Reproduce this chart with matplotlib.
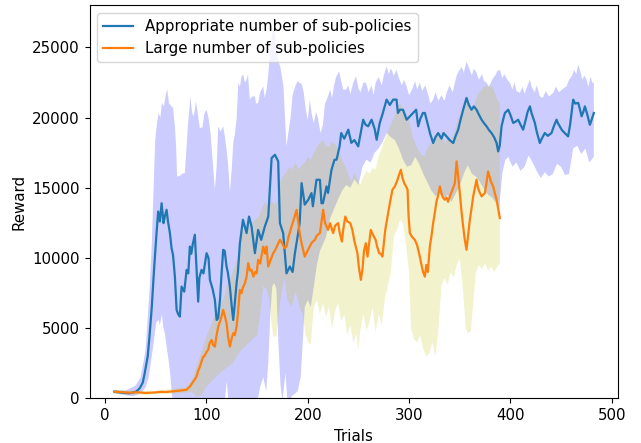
import numpy as np
import matplotlib
matplotlib.use("Agg")
import matplotlib.pyplot as plt

plt.rcParams["font.size"] = 10.8
plt.rcParams["lines.linewidth"] = 1.6
plt.rcParams["xtick.major.size"] = 3.8
plt.rcParams["ytick.major.size"] = 3.8

# mean reward, "Appropriate number of sub-policies"
appropriate_mean = [
    (9, 470), (15, 420), (20, 380), (24, 360), (28, 420), (31, 500), (34, 710), (37, 1100),
    (39, 1780), (42, 3000), (44, 4640), (46, 6500), (47.4, 8200), (49, 10000), (50.7, 11770),
    (52.3, 13310), (54, 12600), (55.7, 13900), (57.6, 12480), (59, 13000), (60.6, 13430),
    (62, 12600), (63.9, 11770), (65.5, 10700), (67, 10200), (68.8, 8670), (70.5, 6300),
    (72, 6000), (73.7, 5820), (75.4, 7960), (78, 7600), (80.4, 9150), (82, 8900), (83.6, 10810),
    (85, 10300), (86.5, 11000), (88.5, 11650), (90.2, 9150), (91.8, 6890), (93, 8600),
    (95.1, 9150), (97, 8900), (100.1, 10340), (102, 10000), (103.4, 8440), (106, 7800),
    (108.3, 7010), (110, 5580), (111.5, 5700), (113.3, 7010), (115, 9000), (116.5, 10580),
    (118, 10500), (119.8, 9390), (121, 9000), (123.1, 7960), (125, 6500), (126.4, 5580),
    (128, 6800), (129.7, 8200), (131, 9000), (133, 11050), (136, 12720), (139.6, 11770),
    (142, 12950), (144.5, 12240), (147.8, 10340), (151, 12000), (154, 11290), (157.6, 12240),
    (161, 12950), (164.3, 17120), (167.6, 17350), (170.8, 16880), (172.5, 12480),
    (175.7, 11770), (179, 8900), (182.3, 9390), (185, 9000), (187.3, 10340), (190.5, 11770),
    (192, 12500), (193.9, 15330), (197, 13800), (200.4, 14140), (203.7, 14620), (205, 13680),
    (208.6, 15570), (212, 15570), (213.5, 13900), (215, 13900), (218.5, 15100), (220, 14630),
    (223.4, 16280), (226.4, 17000), (228.4, 17000), (231.4, 17950), (233, 18900), (236, 18500),
    (240, 19140), (243, 18200), (246, 18400), (249.8, 17950), (252, 18800), (254.7, 19850),
    (257, 19500), (259.6, 19380), (263, 19850), (266, 19200), (268, 18420), (271, 19600),
    (274, 20300), (277.8, 21280), (281, 20900), (284.3, 21280), (287.6, 21280), (289, 20330),
    (290.9, 20560), (294, 20560), (297.6, 19850), (300.8, 20090), (304, 20330), (307, 20560),
    (309, 19380), (311, 19900), (313.7, 20330), (315.6, 20330), (318.9, 19380), (321, 18800),
    (323.8, 18190), (326, 18600), (328.7, 18900), (332, 18500), (334, 18900), (337, 18660),
    (340, 18400), (343.6, 18190), (346, 18700), (348.5, 19140), (351, 19900), (353.4, 20560),
    (356.7, 21400), (359, 20900), (361.6, 20560), (364, 20800), (366.6, 20560), (369, 20200),
    (371.6, 19850), (374, 19600), (376.5, 19380), (379, 19100), (381.4, 18900), (384, 18600),
    (386.4, 18190), (388, 17590), (389.5, 18000), (391.3, 19380), (393, 19900), (394.6, 20330),
    (397.9, 20560), (400, 20200), (402.8, 19620), (405, 19700), (407.7, 19850), (410, 19500),
    (412.6, 19140), (415, 19800), (417, 20400), (419.3, 20800), (421, 20300), (424.2, 19620),
    (426, 19000), (429.1, 18190), (431, 18500), (434, 18900), (437, 18700), (440.6, 18900),
    (443, 19400), (445.6, 19850), (447, 19600), (448.8, 19380), (451, 19100), (453.7, 18900),
    (457, 18660), (459, 19500), (462, 21280), (464, 21000), (467, 21050), (469, 20500),
    (470.3, 20090), (472, 20400), (473.6, 20800), (476, 20200), (478.5, 19490), (480, 19800),
    (482.4, 20330),
]

appropriate_upper = [
    (9, 600), (20, 550), (30, 900), (35, 1500), (40, 3500), (44, 8000), (46, 11000),
    (47.4, 14140), (49.4, 18420), (51, 19500), (52.7, 20330), (54.5, 20000), (56, 21050),
    (58, 20800), (59.5, 21500), (61.2, 22040), (63, 21000), (65.5, 20800), (67, 20700),
    (68.8, 19380), (70, 18000), (71, 15800), (73.7, 15850), (76, 16000), (78.6, 16050),
    (80, 17500), (81.9, 19620), (84.2, 21520), (85.5, 20500), (86.8, 20090), (88, 20300),
    (89.5, 21160), (91, 20500), (93.4, 19260), (96, 19300), (98, 20300), (100, 20560),
    (102, 20000), (104, 18900), (106, 17000), (108.3, 14860), (110, 16500), (111.6, 19380),
    (114, 19000), (116.5, 19380), (118, 18700), (119.8, 17730), (121.5, 16500), (123.1, 14620),
    (125, 16400), (126.4, 18190), (128, 18800), (129.7, 19850), (131.4, 22480), (133, 22200),
    (134.5, 22900), (136.2, 23060), (138, 22500), (139.5, 22700), (141, 23060), (142.8, 21280),
    (145, 21500), (147.8, 21520), (149, 21000), (151, 21050), (153, 21800), (156, 22240),
    (157.5, 21400), (159.3, 22000), (161, 23000), (162.5, 24500), (164, 25600), (166, 26270),
    (167.5, 26000), (169, 24800), (171, 24000), (173, 23600), (176, 22230), (177.5, 20000),
    (179, 17950), (181, 19000), (183, 20000), (185, 21600), (188, 22300), (190, 22600),
    (192, 22480), (194, 22400), (196, 21800), (198, 20600), (200, 19800), (202, 21280),
    (204, 20200), (206, 19600), (208, 20400), (210, 20000), (212.6, 18900), (215, 19500),
    (217, 21000), (220, 21500), (222, 22000), (224, 21400), (226, 22300), (228, 22900),
    (231, 23300), (233, 22600), (235, 22000), (237.8, 22000), (240, 22300), (242, 21700),
    (245, 22500), (247.6, 22950), (250, 22100), (252, 21800), (255, 22500), (257.5, 22480),
    (260, 21800), (263, 22300), (265, 21600), (267, 22480), (270, 22900), (273, 22300),
    (275, 23000), (277.8, 23650), (280, 23100), (282, 23500), (285, 23000), (287.6, 23400),
    (290, 22800), (293, 22300), (295, 22700), (297.5, 22240), (300, 21600), (303, 22000),
    (306, 22600), (308, 22000), (310.6, 22480), (313, 21900), (316, 22300), (319, 21600),
    (321, 21000), (323.8, 21280), (326, 21800), (329, 21200), (332, 21600), (335, 21200),
    (337, 21760), (340, 22300), (343, 21800), (346.8, 22950), (349, 23300), (352, 23600),
    (354, 23200), (356.7, 24000), (359, 23600), (362, 23000), (364, 23500), (366.6, 23200),
    (369, 22700), (372, 23100), (374, 22600), (376.5, 22480), (379, 22200), (382, 22700),
    (385, 23000), (387, 23300), (389.7, 23400), (392, 22800), (394, 23100), (397, 22700),
    (399.6, 22480), (402, 22000), (404, 22500), (406, 21900), (409.4, 21760), (412, 22200),
    (414, 21700), (417, 22300), (419.3, 22700), (421, 22200), (424, 21800), (426, 22300),
    (429.1, 21520), (432, 21400), (435, 21900), (438, 21500), (442.3, 21760), (445, 22200),
    (448, 21800), (451, 22000), (455.5, 22240), (458, 22700), (461, 23000), (463, 23400),
    (465, 23100), (467, 23770), (469, 23300), (471, 22700), (473, 23000), (475.2, 22700),
    (477, 22200), (479, 22900), (481, 22500), (482.4, 22480),
]

appropriate_lower = [
    (9, 350), (20, 220), (28, 150), (33, 300), (37, 500), (40, 800), (43, 1500), (45, 2500),
    (47, 3500), (49, 4600), (50.5, 5400), (52.7, 5580), (54, 5200), (56, 6000), (57.5, 5000),
    (59, 4600), (61, 3500), (63, 2500), (64.5, 1500), (66, 200), (68, -800), (72, -1500),
    (76, -1000), (80, -1800), (85, -1200), (90, -2000), (95, -1500), (100, -1000),
    (105, -1800), (110, -2500), (115, -1200), (118, -300), (120, 1200), (122, -400),
    (126, -2000), (130, -1500), (135, -800), (140, -1000), (145, -600), (150, -300),
    (153, 800), (156, 1500), (159, 500), (161, 2500), (163, 6000), (165, 8000), (167, 8200),
    (169, 7800), (171, 4000), (173, 1000), (175, -200), (178, 1800), (180, -300), (185, 200),
    (190, 500), (193, 1500), (195, 4000), (197, 6500), (200, 7000), (203, 6500), (206, 8000),
    (209, 9500), (212, 10500), (215, 11000), (218, 11500), (222, 12800), (226, 13500),
    (230, 14200), (234, 14800), (238, 15200), (242, 15000), (246, 15600), (250, 15200),
    (254, 16500), (258, 17000), (262, 16800), (266, 17500), (270, 17800), (274, 18300),
    (278, 18900), (282, 18600), (286, 18400), (290, 17800), (294, 17000), (298, 16500),
    (302, 16600), (306, 17200), (310, 16700), (314, 16000), (318, 15400), (322, 14800),
    (326, 14400), (330, 14600), (334, 14200), (338, 14500), (342, 14000), (346, 14600),
    (350, 15100), (354, 16000), (358, 16600), (362, 16000), (366, 15800), (370, 15400),
    (374, 14900), (378, 14500), (382, 14300), (386, 13900), (389, 13600), (392, 16000),
    (395, 17000), (398, 17200), (402, 16500), (406, 16800), (410, 16200), (414, 16500),
    (418, 17300), (422, 16800), (426, 16200), (430, 15700), (434, 16100), (438, 15800),
    (442, 16000), (446, 16700), (450, 16500), (454, 15900), (458, 16000), (462, 17800),
    (466, 18000), (470, 17400), (474, 17800), (478, 16800), (482.4, 17200),
]

# mean reward, "Large number of sub-policies"
large_mean = [
    (9, 470), (15, 440), (20, 420), (25, 400), (30, 430), (35, 410), (40, 380), (45, 400),
    (50, 420), (55, 460), (60, 450), (65, 480), (70, 520), (75, 560), (80, 600), (83.6, 830),
    (86, 1100), (88, 1300), (90.2, 1540), (92, 2000), (93.5, 2250), (95, 2600), (96.8, 2970),
    (98, 3000), (100, 3300), (101.7, 3450), (103, 3900), (105, 4160), (106.5, 3800),
    (108.3, 3680), (110, 4500), (111.6, 5110), (114, 5600), (116.5, 6300), (118, 5900),
    (119.8, 5350), (121.5, 4300), (123.1, 3680), (125, 4300), (126.4, 4640), (128, 4500),
    (129.7, 5110), (131, 6000), (133, 7720), (134.6, 7500), (136, 7900), (137.9, 8200),
    (139.6, 8670), (141.2, 9630), (143, 9100), (144.5, 9150), (146.2, 8670), (148, 9000),
    (149.5, 8900), (151, 9870), (153, 9600), (156, 10810), (158, 10300), (159.3, 10810),
    (161, 9390), (163, 9800), (165.9, 10340), (168, 10600), (170, 10900), (172.5, 11290),
    (175, 11000), (177, 10700), (179, 10810), (181, 11500), (184, 12240), (186, 12700),
    (189, 13430), (190.5, 12600), (192, 11770), (194, 11000), (197, 10100), (199, 10400),
    (202, 10810), (204, 11100), (207, 11290), (209, 11600), (212, 11770), (215.2, 13430),
    (217, 12500), (220, 12000), (222, 12480), (225, 11770), (227, 12300), (230, 12480),
    (231.5, 11800), (233.7, 11170), (235, 12000), (237, 12950), (239, 12600), (242, 12480),
    (244, 12000), (246, 11200), (249, 10340), (250.5, 9300), (252.4, 8440), (254, 9200),
    (255.5, 10500), (257.3, 11050), (259, 10100), (260.5, 11000), (262.2, 12000),
    (264, 11700), (267, 11290), (268.5, 10800), (270.5, 10340), (272, 10300), (273.7, 10100),
    (275, 11000), (276.5, 12000), (278.7, 12950), (281, 13900), (283.6, 14860), (286, 15100),
    (288.6, 15570), (290, 15900), (291.9, 16280), (293.5, 15700), (295.2, 15330),
    (297, 15100), (298.5, 14860), (299.5, 13000), (300.8, 11770), (303, 11500),
    (305.7, 11290), (308, 10900), (310.6, 10100), (312, 9600), (313.8, 9000), (315.6, 8670),
    (317, 9500), (318.5, 9000), (320.5, 10810), (322, 11500), (323.8, 12500), (325.4, 13200),
    (327, 14000), (328.5, 14400), (330.4, 15100), (332, 14600), (333.5, 14300),
    (335.3, 14150), (337, 14300), (338.5, 14000), (340.3, 14390), (342, 14700), (343.5, 15000),
    (345.2, 15330), (346.9, 16880), (348.5, 15800), (350.1, 14620), (351.5, 13500),
    (353.4, 12240), (355, 11300), (356.7, 10580), (358.3, 11600), (360, 12720),
    (361.6, 13500), (363.3, 14390), (365, 15000), (366.6, 15570), (368, 15000),
    (369.5, 14700), (371.6, 14390), (373.2, 14500), (374.8, 14620), (376.4, 15300),
    (378, 16160), (379.5, 15800), (381, 15400), (383, 15100), (384.7, 14600), (386.4, 14150),
    (388, 13500), (389.6, 12840),
]

large_upper = [
    (9, 620), (20, 560), (30, 560), (40, 520), (50, 560), (60, 620), (70, 700), (80, 800),
    (85, 1200), (88, 1800), (90, 2250), (95, 3300), (100, 4400), (105, 5300), (110, 6300),
    (113, 6800), (116.5, 7010), (120, 8000), (124, 8600), (128, 9400), (132, 10400),
    (134.6, 11770), (138, 12000), (142, 12300), (145, 12500), (148, 12720), (152, 13000),
    (155, 13600), (158, 14000), (161, 13600), (164, 14100), (167, 13800), (170, 14000),
    (172, 15300), (175, 15800), (178, 16000), (182, 16500), (185, 16300), (188, 16800),
    (191, 16300), (194, 16600), (197, 16800), (200, 17200), (203, 17000), (206, 17500),
    (209, 17900), (212, 18200), (215, 18400), (218, 18000), (221, 17900), (224, 18300),
    (228, 18000), (231, 17600), (234, 17000), (237, 16500), (240, 16000), (243, 15400),
    (246, 16100), (249, 15600), (252, 15200), (255, 15800), (258, 16200), (261, 16000),
    (264, 16400), (267, 16300), (270, 17200), (273, 17800), (276, 18400), (279, 19000),
    (282, 19500), (285, 20000), (288, 20600), (291, 21000), (294, 20700), (297, 20300),
    (300, 19800), (303, 18800), (306, 18200), (309, 17700), (312, 17400), (315, 17200),
    (318, 17800), (321, 18100), (324, 18400), (327, 18600), (330, 18900), (333, 18500),
    (336, 18200), (339, 18700), (342, 18400), (345, 19000), (348, 19800), (351, 20300),
    (354, 20800), (357, 21200), (360, 21000), (363, 20500), (366, 21300), (369, 21800),
    (372, 22000), (375, 22300), (378, 22200), (381, 22300), (384, 21900), (387, 21300),
    (389.6, 21000),
]

large_lower = [
    (9, 320), (20, 280), (30, 260), (40, 250), (50, 280), (60, 300), (70, 340), (80, 400),
    (85, 450), (88, 300), (90, 100), (95, 200), (100, 830), (105, 1200), (110, 1600),
    (116.5, 2000), (120, 2200), (126, 2500), (130, 3000), (135, 3500), (140, 3800),
    (145, 4200), (150, 4500), (153, 6000), (156, 8000), (159, 7800), (162, 7000), (164, 5500),
    (166, 4400), (169, 4400), (171, 5800), (174, 7500), (177, 8500), (180, 7000), (184, 6500),
    (188, 7600), (192, 6500), (195, 6000), (198, 4500), (201, 3900), (203, 3900), (206, 6500),
    (209, 7000), (212, 6000), (215, 6800), (218, 5800), (221, 6500), (224, 5000), (227, 6200),
    (230, 6800), (233, 5500), (236, 6000), (239, 4500), (242, 5200), (245, 4000), (248, 4600),
    (250, 3450), (252, 5000), (255, 6000), (258, 4800), (261, 5500), (264, 6500), (267, 4700),
    (270, 6000), (273, 5200), (276, 7000), (279, 8000), (282, 9000), (285, 11500),
    (288, 12000), (291, 12700), (294, 12500), (297, 11000), (300, 9000), (302, 5000),
    (305, 4200), (308, 4000), (311, 4500), (314, 3500), (317, 3000), (320, 3200), (323, 4000),
    (326, 3000), (329, 5000), (332, 8000), (335, 8600), (338, 8100), (341, 9000), (344, 8600),
    (347, 9500), (350, 10000), (353, 8000), (356, 5000), (358, 4640), (361, 4800),
    (363, 6500), (366, 9000), (369, 9500), (372, 9200), (375, 9600), (378, 9100), (381, 9400),
    (384, 9000), (387, 9400), (389.6, 9600),
]


def band(ax, upper, lower, color):
    up = np.array(upper)
    lo = np.array(lower)[::-1]
    ax.fill(np.concatenate([up[:, 0], lo[:, 0]]), np.concatenate([up[:, 1], lo[:, 1]]),
            color=color, alpha=0.2, linewidth=0)


fig = plt.figure(figsize=(6.41, 4.43), dpi=100)
ax = fig.add_axes([0.1404, 0.1009, 0.8233, 0.8871])

band(ax, appropriate_upper, appropriate_lower, "blue")
band(ax, large_upper, large_lower, "y")

am = np.array(appropriate_mean)
lm = np.array(large_mean)
ax.plot(am[:, 0], am[:, 1], color="tab:blue", label="Appropriate number of sub-policies")
ax.plot(lm[:, 0], lm[:, 1], color="tab:orange", label="Large number of sub-policies")

ax.set_xlim(-15, 506)
ax.set_ylim(0, 28000)
ax.set_xlabel("Trials")
ax.set_ylabel("Reward")
ax.legend(loc="upper left")

fig.savefig("out.png", dpi=100)
